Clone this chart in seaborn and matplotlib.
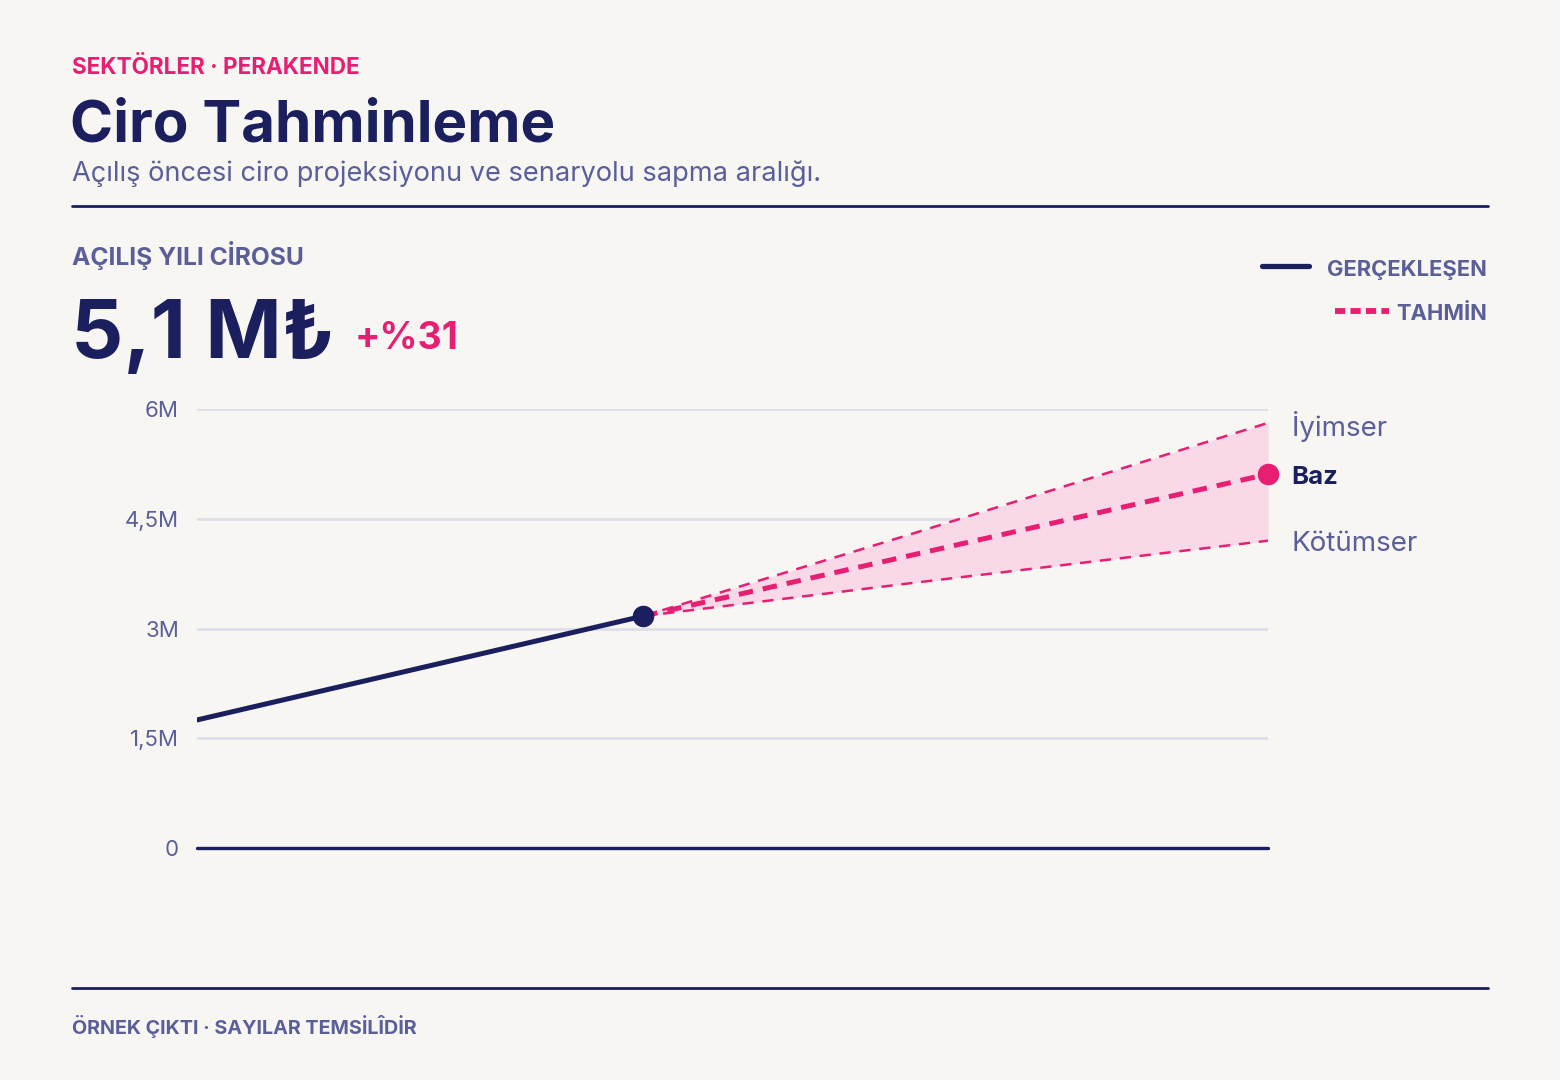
import numpy as np
import pandas as pd
import matplotlib.pyplot as plt
import matplotlib.lines as mlines
import seaborn as sns

# data (millions of TL), x = month
actual_months = [0, 5]
actual_values = [1.75, 3.17]

forecast_months = [5, 8, 12]
base_values = [3.17, 4.00, 5.11]
optimistic_values = [3.17, 4.29, 5.81]
pessimistic_values = [3.17, 3.62, 4.20]

y_ticks = [0, 1.5, 3, 4.5, 6]
y_tick_labels = ["0", "1,5M", "3M", "4,5M", "6M"]

scenario_labels = ["İyimser", "Baz", "Kötümser"]

BG = "#f7f6f3"
NAVY = "#1b1f5e"
PINK = "#e81e72"
MUTED = "#5a5f99"
GRID = "#dfdfea"
BAND = "#f9d9e8"

sns.set_theme(style="white")
plt.rcParams["font.family"] = ["Inter", "DejaVu Sans"]

W, H = 1560, 1080
fig = plt.figure(figsize=(W / 100, H / 100), dpi=100, facecolor=BG)


def fx(px):
    return px / W


def fy(py):
    return 1 - py / H


ax = fig.add_axes([fx(197), fy(848), fx(1268) - fx(197), fy(409) - fy(848)])
ax.set_facecolor(BG)

# grid and baseline
for t in y_ticks[1:]:
    ax.axhline(t, color=GRID, lw=2, zorder=0)
ax.axhline(0, color=NAVY, lw=2.4, zorder=1, clip_on=False)

# band between scenarios
ax.fill_between(forecast_months, pessimistic_values, optimistic_values,
                color=BAND, lw=0, zorder=1)

df_actual = pd.DataFrame({"month": actual_months, "value": actual_values})
df_fc = pd.DataFrame({
    "month": forecast_months * 3,
    "value": base_values + optimistic_values + pessimistic_values,
    "scenario": ["Baz"] * 3 + ["İyimser"] * 3 + ["Kötümser"] * 3,
})

sns.lineplot(data=df_actual, x="month", y="value", color=NAVY, lw=3.6,
             ax=ax, zorder=3)
for name, lw, dash in [("İyimser", 1.8, (4.5, 3.5)), ("Kötümser", 1.8, (4.5, 3.5)),
                       ("Baz", 3.6, (2.9, 2.0))]:
    sub = df_fc[df_fc["scenario"] == name]
    sns.lineplot(data=sub, x="month", y="value", color=PINK, lw=lw,
                 ax=ax, zorder=4).lines[-1].set_dashes(dash)

ax.plot(actual_months[-1], actual_values[-1], "o", ms=14.5, color=NAVY,
        zorder=5, clip_on=False)
ax.plot(forecast_months[-1], base_values[-1], "o", ms=14.5, color=PINK,
        zorder=5, clip_on=False)

ax.set_xlim(0, 12)
ax.set_ylim(0, 6)
ax.set_xticks([])
ax.set_yticks(y_ticks)
ax.set_yticklabels(y_tick_labels, color=MUTED, fontsize=16)
ax.tick_params(axis="y", length=0, pad=13)
ax.set_xlabel("")
ax.set_ylabel("")
sns.despine(ax=ax, left=True, bottom=True)

# scenario labels at the right end
ends = [optimistic_values[-1], base_values[-1], pessimistic_values[-1]]
for lab, yv in zip(scenario_labels, ends):
    bold = lab == "Baz"
    ax.annotate(lab, xy=(12, yv), xytext=(17, -2.5), textcoords="offset points",
                va="center", ha="left", fontsize=20 if not bold else 18.5,
                fontweight="bold" if bold else "normal",
                color=NAVY if bold else MUTED, annotation_clip=False)

# header
fig.text(fx(72), fy(68), "SEKTÖRLER · PERAKENDE", color=PINK, fontsize=16.2,
         fontweight="bold", va="center")
fig.text(fx(70), fy(126), "Ciro Tahminleme", color=NAVY, fontsize=42,
         fontweight="bold", va="center")
fig.text(fx(72), fy(174), "Açılış öncesi ciro projeksiyonu ve senaryolu sapma aralığı.",
         color=MUTED, fontsize=19.6, va="center")
fig.add_artist(mlines.Line2D([fx(72), fx(1488)], [fy(206), fy(206)],
                             color=NAVY, lw=2))

fig.text(fx(72), fy(256), "AÇILIŞ YILI CİROSU", color=MUTED, fontsize=17.7,
         fontweight="bold", va="center")
fig.text(fx(71), fy(337), "5,1 M₺", color=NAVY, fontsize=59,
         fontweight="bold", va="center")
fig.text(fx(355), fy(339), "+%31", color=PINK, fontsize=27,
         fontweight="bold", va="center")

# legend
fig.add_artist(mlines.Line2D([fx(1262), fx(1309)], [fy(266), fy(266)],
                             color=NAVY, lw=3.8))
fig.text(fx(1487), fy(270), "GERÇEKLEŞEN", color=MUTED, fontsize=15.8,
         fontweight="bold", va="center", ha="right")
fig.add_artist(mlines.Line2D([fx(1335), fx(1389)], [fy(311), fy(311)],
                             color=PINK, lw=4.2, dashes=(1.75, 0.9)))
fig.text(fx(1487), fy(314), "TAHMİN", color=MUTED, fontsize=15.8,
         fontweight="bold", va="center", ha="right")

# footer
fig.add_artist(mlines.Line2D([fx(72), fx(1488)], [fy(988), fy(988)],
                             color=NAVY, lw=2))
fig.text(fx(72), fy(1026), "ÖRNEK ÇIKTI · SAYILAR TEMSİLÎDİR", color=MUTED,
         fontsize=14.2, fontweight="bold", va="center")

fig.savefig("out.png", dpi=100, facecolor=BG)
